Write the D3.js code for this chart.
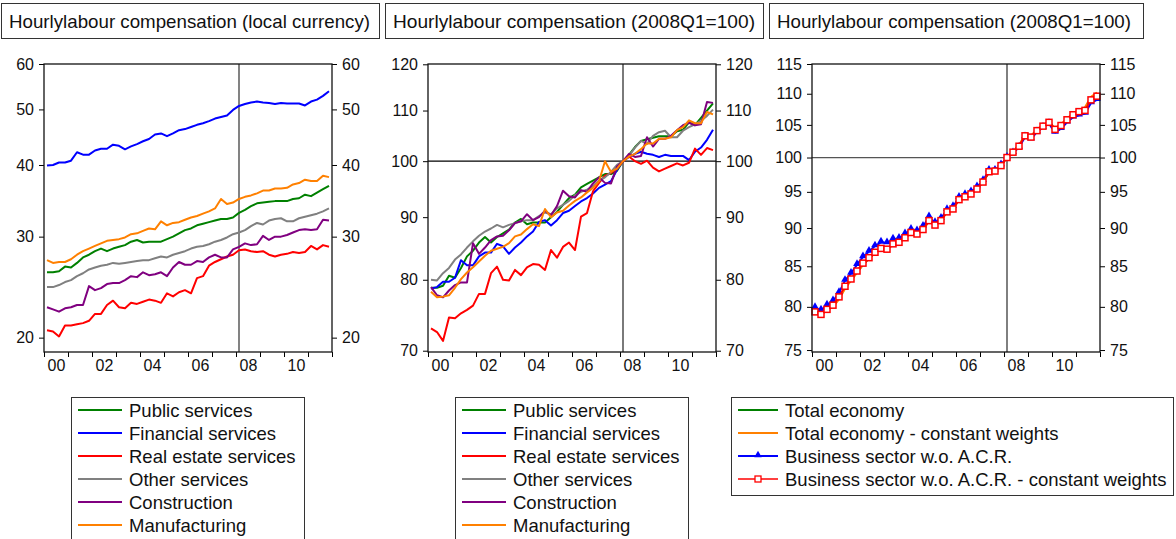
<!DOCTYPE html>
<html>
<head>
<meta charset="utf-8">
<script src="https://cdn.jsdelivr.net/npm/d3@7"></script>
<style>
html,body{margin:0;padding:0;background:#fff;}
svg{display:block;font-family:"Liberation Sans",Arial,sans-serif;}
</style>
</head>
<body>
<svg id="chart" width="1176" height="539"></svg>
<script>
// ── categories ──────────────────────────────────
const YEARS = d3.range(2000, 2012);
const QUARTERS = YEARS.flatMap(y => [1,2,3,4].map(q => y + "Q" + q));
const YEAR_LABELS = ["00","02","04","06","08","10"];
const BASE_Q = "2008Q1";

const SECTORS = ["Public services","Financial services","Real estate services","Other services","Construction","Manufacturing"];
const SECTOR_COLORS = ["#008000","#0000ff","#ff0000","#808080","#800080","#ff8000"];
const TOTALS = ["Total economy","Total economy - constant weights","Business sector w.o. A.C.R.","Business sector w.o. A.C.R. - constant weights"];
const TOTAL_COLORS = ["#008000","#ff8000","#0000ff","#ff0000"];

const TITLES = ["Hourlylabour compensation (local currency)","Hourlylabour compensation (2008Q1=100)","Hourlylabour compensation (2008Q1=100)"];
const TICKS_LOCAL = [20,30,40,50,60];
const TICKS_INDEX = [70,80,90,100,110,120];
const TICKS_TOTAL = [75,80,85,90,95,100,105,110,115];

// ── panel 1: local currency ─────────────────────
const publicLocal = [26.0,26.0,26.1,26.6,26.5,27.0,27.6,27.9,28.3,28.6, 28.3,28.6,28.8,29.0,29.4,29.6,29.3,29.4,29.4,29.4,
  29.7,30.0,30.4,30.8,31.0,31.4,31.6,31.8,32.0,32.2, 32.2,32.4,33.0,33.4,33.9,34.3,34.4,34.5,34.6,34.6, 34.6,34.9,35.0,35.5,35.3,35.8,36.3,36.8];
const financialLocal = [39.9,40.0,40.4,40.4,40.7,42.1,41.7,41.7,42.4,42.7, 42.7,43.4,43.2,42.6,43.1,43.5,44.0,44.4,45.2,45.4,
  44.9,45.4,46.0,46.2,46.6,47.0,47.3,47.7,48.2,48.5, 48.8,49.9,50.7,51.1,51.4,51.6,51.4,51.3,51.1,51.3, 51.2,51.2,51.2,50.8,51.6,52.0,52.8,53.8];
const realEstateLocal = [20.6,20.5,20.1,21.0,21.0,21.1,21.2,21.4,22.0,22.0, 22.8,23.2,22.6,22.5,23.0,22.9,23.1,23.3,23.2,23.0,
  23.9,23.6,24.0,24.2,23.9,25.4,25.6,26.7,27.1,27.4, 27.7,27.9,28.4,28.5,28.3,28.2,28.3,27.9,27.7,27.9, 28.0,28.2,28.1,28.2,28.9,28.5,29.0,28.8];
const otherLocal = [24.5,24.5,24.7,25.0,25.2,25.6,25.9,26.3,26.5,26.7, 26.8,27.0,26.9,27.0,27.1,27.2,27.3,27.3,27.5,27.7,
  27.6,27.9,28.1,28.3,28.6,28.8,28.9,29.1,29.4,29.6, 29.9,30.3,30.5,30.8,31.3,31.7,31.5,32.0,32.2,32.3, 31.9,31.9,32.3,32.5,32.7,32.9,33.2,33.6];
const constructionLocal = [22.6,22.4,22.2,22.5,22.6,22.8,22.8,24.6,24.2,24.4, 24.8,24.9,24.9,25.2,25.6,25.5,26.0,25.7,25.8,26.0,
  25.6,26.5,27.1,26.8,26.8,27.2,27.1,27.6,27.9,27.6, 27.6,28.5,28.8,29.2,29.0,29.1,30.1,29.6,30.0,30.0, 30.2,30.5,30.8,30.9,30.8,30.9,32.1,32.0];
const manufacturingLocal = [27.3,27.0,27.1,27.1,27.4,27.9,28.3,28.6,28.9,29.2, 29.5,29.6,29.7,29.9,30.3,30.4,30.7,31.0,30.9,31.9,
  31.4,31.7,31.8,32.1,32.4,32.6,32.9,33.2,33.6,34.9, 34.2,34.4,34.9,35.2,35.4,35.7,36.1,36.1,36.4,36.4, 36.5,37.0,37.2,37.7,37.5,37.5,38.3,38.1];

// ── panel 2: 2008Q1 = 100 ───────────────────────
const publicIndex = [78.8,78.8,79.1,80.6,80.3,81.8,83.6,84.5,85.8,86.7, 85.8,86.7,87.3,87.9,89.1,89.7,88.8,89.1,89.1,89.1,
  90.0,90.9,92.1,93.3,93.9,95.2,95.8,96.4,97.0,97.6, 97.6,98.2,100.0,101.2,102.7,103.9,104.2,104.5,104.8,104.8, 104.8,105.8,106.1,107.6,107.0,108.5,110.0,111.5];
const financialIndex = [78.7,78.9,79.7,79.7,80.3,83.0,82.2,82.2,83.6,84.2, 84.2,85.6,85.2,84.0,85.0,85.8,86.8,87.6,89.2,89.5,
  88.6,89.5,90.7,91.1,91.9,92.7,93.3,94.1,95.1,95.7, 96.3,98.4,100.0,100.8,101.4,101.8,101.4,101.2,100.8,101.2, 101.0,101.0,101.0,100.2,101.8,102.6,104.1,106.1];
const realEstateIndex = [73.0,72.5,71.3,74.5,74.4,75.1,75.6,76.2,77.9,77.9, 81.0,82.0,80.0,79.9,81.5,80.7,81.9,82.4,82.3,81.5,
  84.6,83.4,85.1,85.8,84.6,90.1,90.7,94.5,96.0,97.3, 97.8,98.6,100.0,100.9,100.0,99.5,100.1,98.8,98.1,98.6, 99.1,99.6,99.2,99.7,102.4,101.2,102.5,102.1];
const otherIndex = [80.0,79.9,81.0,81.8,83.1,83.9,85.0,86.0,86.9,87.6, 88.1,88.7,88.3,88.7,89.0,89.3,89.5,89.5,90.2,90.8,
  90.5,91.5,92.1,92.8,93.8,94.4,94.8,95.4,96.4,97.0, 98.0,99.3,100.0,101.0,102.6,103.9,103.3,104.9,105.6,105.9, 104.6,104.6,105.9,106.6,107.2,107.9,108.9,110.2];
const constructionIndex = [78.9,77.7,77.4,78.4,79.2,79.6,79.6,85.7,84.0,85.0, 86.2,86.8,86.9,87.8,89.0,89.3,90.5,89.5,90.0,91.1,
  90.3,91.9,94.6,93.6,93.4,94.7,94.4,95.9,97.0,96.0, 95.9,99.0,100.0,101.4,100.8,101.0,104.6,102.8,104.3,104.3, 104.9,106.0,107.0,107.5,107.0,107.2,111.8,111.6];
const manufacturingIndex = [78.2,77.4,77.5,77.7,78.8,80.1,81.1,81.9,82.8,83.7, 84.5,84.8,85.1,85.7,86.8,87.1,88.0,88.8,88.5,91.4,
  90.0,90.8,91.1,92.0,92.8,93.4,94.3,95.1,96.3,100.0, 98.0,98.6,100.0,100.9,101.4,102.3,103.4,103.4,104.3,104.3, 104.6,106.0,106.6,108.0,107.4,107.4,109.7,109.2];

// ── panel 3: totals, 2008Q1 = 100 ───────────────
const totalIndex = [79.5,79.2,79.8,80.2,81.0,82.3,83.3,84.2,85.2,86.0, 86.7,87.2,87.2,87.9,88.2,88.9,89.4,89.3,89.9,90.9,
  90.5,91.1,92.3,92.7,93.9,94.3,94.8,95.5,96.4,97.8, 98.0,98.9,100.0,100.8,101.8,103.3,103.2,104.2,104.9,105.4, 104.4,105.0,105.9,106.7,107.2,107.5,109.2,109.8];
const totalConstIndex = [79.3,79.0,79.6,80.0,80.9,82.2,83.2,84.2,85.2,86.0, 86.7,87.2,87.1,87.8,88.0,88.7,89.3,89.1,89.8,90.9,
  90.4,91.0,92.2,92.6,93.9,94.3,94.8,95.5,96.5,97.9, 98.0,98.8,100.0,100.9,101.9,103.4,103.3,104.3,105.0,105.5, 104.5,105.1,106.0,106.8,107.3,107.8,109.5,110.2];
const businessIndex = [79.9,79.6,80.2,80.7,81.7,83.2,84.1,85.2,86.2,86.9, 87.6,88.1,88.0,88.5,88.6,89.2,89.8,89.6,90.2,91.5,
  90.7,91.3,92.5,92.9,94.2,94.6,95.0,95.7,96.6,98.1, 98.1,98.9,100.0,100.7,101.5,103.1,102.8,103.9,104.6,105.2, 103.8,104.4,105.4,106.2,106.5,106.8,108.5,109.0];
const businessConstIndex = [79.4,79.1,79.7,80.2,81.2,82.5,83.4,84.4,85.4,86.1, 86.8,87.3,87.2,87.9,88.1,88.7,89.4,89.2,89.8,91.0,
  90.4,91.0,92.2,92.6,93.9,94.3,94.7,95.4,96.4,97.9, 98.0,98.8,100.0,100.8,101.7,103.3,103.1,104.1,104.8,105.4, 104.3,104.9,105.8,106.6,107.1,107.3,109.0,109.6];

const localSeries = [publicLocal, financialLocal, realEstateLocal, otherLocal, constructionLocal, manufacturingLocal];
const indexSeries = [publicIndex, financialIndex, realEstateIndex, otherIndex, constructionIndex, manufacturingIndex];
const totalSeries = [totalIndex, totalConstIndex, businessIndex, businessConstIndex];
const TOTAL_MARKERS = [null, null, "triangle", "square"];

// ── layout ──────────────────────────────────────
const FONT = '"Liberation Sans",Arial,sans-serif';
const TOP = 64, BOT = 352, PW = 288;
const svg = d3.select("#chart");
svg.append("rect").attr("width",1176).attr("height",539).attr("fill","#fff");

const panels = [
  {title:TITLES[0], box:[1,378], tlen:361, left:44, domain:[18.88,60], ticks:TICKS_LOCAL,
   names:SECTORS, colors:SECTOR_COLORS, data:localSeries, markers:[], hLine:null, vCol:"#303030", vW:1.2},
  {title:TITLES[1], box:[385,378], tlen:362, left:428, domain:[69.83,120.07], ticks:TICKS_INDEX,
   names:SECTORS, colors:SECTOR_COLORS, data:indexSeries, markers:[], hLine:100, hCol:"#000", vCol:"#7a7a7a", vW:2},
  {title:TITLES[2], box:[769,374], tlen:354, left:812, domain:[74.78,115], ticks:TICKS_TOTAL,
   names:TOTALS, colors:TOTAL_COLORS, data:totalSeries, markers:TOTAL_MARKERS, hLine:100, hCol:"#555", vCol:"#606060", vW:1.6}
];

function styleAxis(sel){
  sel.select(".domain").remove();
  sel.selectAll("line").attr("stroke","#000").attr("stroke-width",1);
  sel.selectAll("text").attr("font-family",FONT).attr("font-size",16).attr("fill","#111");
}

panels.forEach(p => {
  // title box
  svg.append("rect").attr("x",p.box[0]+0.5).attr("y",3.5).attr("width",p.box[1]).attr("height",35)
    .attr("fill","#fff").attr("stroke","#333").attr("stroke-width",1);
  svg.append("text").attr("x",p.box[0]+8).attr("y",28)
    .attr("font-family",'"Liberation Sans Narrow","Liberation Sans",Arial,sans-serif').attr("font-size",19)
    .attr("textLength",p.tlen).attr("lengthAdjust","spacingAndGlyphs").attr("fill","#111").text(p.title);

  const x = d3.scaleLinear().domain([0, QUARTERS.length]).range([p.left, p.left+PW]);
  const y = d3.scaleLog().domain(p.domain).range([BOT, TOP]);
  const g = svg.append("g");

  // axes
  g.append("g").attr("transform",`translate(${p.left},0)`)
    .call(d3.axisLeft(y).tickValues(p.ticks).tickFormat(d3.format("d")).tickSize(5).tickPadding(5)).call(styleAxis);
  g.append("g").attr("transform",`translate(${p.left+PW},0)`)
    .call(d3.axisRight(y).tickValues(p.ticks).tickFormat(d3.format("d")).tickSize(5).tickPadding(5)).call(styleAxis);
  g.append("g").attr("transform",`translate(0,${BOT})`)
    .call(d3.axisBottom(x).tickValues(d3.range(0, QUARTERS.length+1, 4)).tickFormat("").tickSize(5)).call(styleAxis);
  g.append("g").attr("transform",`translate(0,${BOT})`)
    .call(d3.axisBottom(x).tickValues(YEAR_LABELS.map((d,i)=>i*8+2)).tickFormat((d,i)=>YEAR_LABELS[i]).tickSize(0).tickPadding(8))
    .call(styleAxis);

  // reference lines
  const bi = QUARTERS.indexOf(BASE_Q) + 0.5;
  g.append("line").attr("x1",x(bi)).attr("x2",x(bi)).attr("y1",TOP).attr("y2",BOT)
    .attr("stroke",p.vCol).attr("stroke-width",p.vW);
  if (p.hLine) {
    g.append("line").attr("x1",p.left).attr("x2",p.left+PW).attr("y1",y(p.hLine)).attr("y2",y(p.hLine))
      .attr("stroke",p.hCol).attr("stroke-width",1.3);
  }

  // series
  const line = d3.line().x((d,i)=>x(i+0.5)).y(d=>y(d));
  p.data.forEach((vals,k) => {
    g.append("path").datum(vals).attr("d",line).attr("fill","none")
      .attr("stroke",p.colors[k]).attr("stroke-width",2).attr("stroke-linejoin","round");
    if (p.markers[k] === "triangle") {
      g.selectAll(null).data(vals).join("path")
        .attr("transform",(d,i)=>`translate(${x(i+0.5)},${y(d)-1})`)
        .attr("d",d3.symbol(d3.symbolTriangle).size(26)).attr("fill",p.colors[k]);
    } else if (p.markers[k] === "square") {
      g.selectAll(null).data(vals).join("rect")
        .attr("x",(d,i)=>x(i+0.5)-3).attr("y",d=>y(d)-3).attr("width",6).attr("height",6)
        .attr("fill","#fff").attr("stroke",p.colors[k]).attr("stroke-width",1.5);
    }
  });

  // frame
  g.append("rect").attr("x",p.left).attr("y",TOP).attr("width",PW).attr("height",BOT-TOP)
    .attr("fill","none").attr("stroke","#111").attr("stroke-width",1.3);
});

// ── legends ─────────────────────────────────────
const legends = [
  {x:71, w:233, h:150, names:SECTORS, colors:SECTOR_COLORS, markers:[], len:44},
  {x:455, w:233, h:150, names:SECTORS, colors:SECTOR_COLORS, markers:[], len:44},
  {x:731, w:442, h:98, names:TOTALS, colors:["#008000","#ff8000","#0000ff","#ff4040"], markers:TOTAL_MARKERS, len:40}
];
legends.forEach(L => {
  const lg = svg.append("g");
  lg.append("rect").attr("x",L.x+0.5).attr("y",397.5).attr("width",L.w).attr("height",L.h)
    .attr("fill","#fff").attr("stroke","#333").attr("stroke-width",1);
  L.names.forEach((name,k) => {
    const cy = 410 + k*23, x0 = L.x+7, x1 = L.x+7+L.len;
    lg.append("line").attr("x1",x0).attr("x2",x1).attr("y1",cy).attr("y2",cy)
      .attr("stroke",L.colors[k]).attr("stroke-width",2);
    if (L.markers[k] === "triangle") {
      lg.append("path").attr("transform",`translate(${(x0+x1)/2},${cy-1})`)
        .attr("d",d3.symbol(d3.symbolTriangle).size(24)).attr("fill",L.colors[k]);
    } else if (L.markers[k] === "square") {
      lg.append("rect").attr("x",(x0+x1)/2-3).attr("y",cy-3).attr("width",6).attr("height",6)
        .attr("fill","#fff").attr("stroke","#ff0000").attr("stroke-width",1.3);
    }
    lg.append("text").attr("x",x1+7).attr("y",cy+6.5)
      .attr("font-family",FONT).attr("font-size",18.5).attr("fill","#111").text(name);
  });
});
</script>
</body>
</html>
